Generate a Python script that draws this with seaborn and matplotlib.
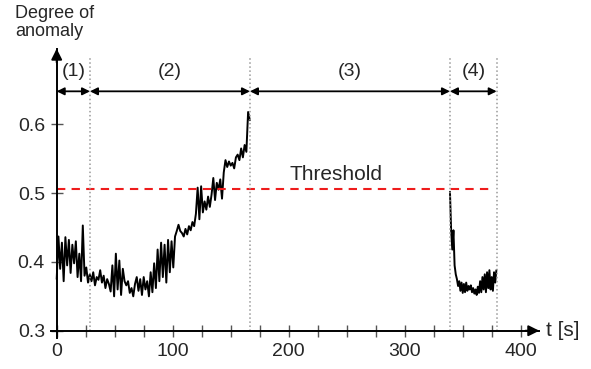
import numpy as np
import pandas as pd
import matplotlib
matplotlib.use('Agg')
import matplotlib.pyplot as plt
import seaborn as sns

# anomaly score, phase (1)+(2), sampled every 1.5 s from t=0
score_a = [
    0.375, 0.437, 0.390, 0.428, 0.372, 0.436, 0.395, 0.432, 0.384, 0.425,
    0.398, 0.430, 0.378, 0.412, 0.372, 0.453, 0.380, 0.392, 0.370, 0.382,
    0.372, 0.385, 0.366, 0.378, 0.374, 0.388, 0.370, 0.380, 0.362, 0.375,
    0.368, 0.357, 0.395, 0.350, 0.412, 0.360, 0.402, 0.352, 0.390, 0.372,
    0.366, 0.372, 0.355, 0.362, 0.350, 0.368, 0.378, 0.358, 0.375, 0.352,
    0.378, 0.360, 0.372, 0.350,
    0.385, 0.356, 0.398, 0.362, 0.418, 0.372, 0.428, 0.378, 0.425, 0.370,
    0.432, 0.385, 0.430, 0.392, 0.437, 0.445, 0.454, 0.445, 0.442, 0.437,
    0.448, 0.440, 0.452, 0.446, 0.458, 0.452,
    0.470, 0.508, 0.462, 0.510, 0.472, 0.488, 0.476, 0.495, 0.480, 0.498,
    0.522, 0.490, 0.515, 0.505, 0.520, 0.492, 0.530, 0.548, 0.538, 0.546,
    0.540, 0.544, 0.536, 0.552, 0.556, 0.548, 0.565, 0.552, 0.570, 0.560,
    0.618, 0.606,
]
# anomaly score, phase (4), sampled every 1 s from t=339
score_b = [
    0.502, 0.446, 0.418, 0.446, 0.395, 0.382, 0.375, 0.365, 0.372, 0.358,
    0.370, 0.355, 0.368, 0.356, 0.370, 0.358, 0.365, 0.360, 0.366, 0.356,
    0.362, 0.354, 0.360, 0.352, 0.364, 0.355, 0.372, 0.356, 0.378, 0.360,
    0.382, 0.356, 0.385, 0.362, 0.388, 0.360, 0.378, 0.358, 0.385, 0.370,
    0.388,
]
t_a = np.arange(len(score_a)) * 1.5
t_b = 339 + np.arange(len(score_b)) * 1.0

threshold = 0.506
phase_edges = [0, 28.7, 166.6, 339, 379.3]
phase_labels = ['(1)', '(2)', '(3)', '(4)']

sns.set_theme(style='white')
plt.rcParams['font.family'] = ['Liberation Sans', 'DejaVu Sans']

fig = plt.figure(figsize=(5.91, 3.69), dpi=100)
ax = fig.add_axes([0.0871, 0.0832, 0.8254, 0.7849])

df_a = pd.DataFrame({'t': t_a, 'score': score_a})
df_b = pd.DataFrame({'t': t_b, 'score': score_b})
sns.lineplot(data=df_a, x='t', y='score', color='black', lw=1.4, ax=ax)
sns.lineplot(data=df_b, x='t', y='score', color='black', lw=1.4, ax=ax)

# threshold
ax.plot([0, 375], [threshold, threshold], color='#ee1c1c', ls=(0, (4, 3)), lw=1.5)
ax.text(241, 0.527, 'Threshold', ha='center', va='center', fontsize=15)

# phase boundaries and arrows
for x in phase_edges[1:]:
    ax.plot([x, x], [0.3, 0.696], color='#999999', ls=':', lw=1.1)
for i, lab in enumerate(phase_labels):
    x0, x1 = phase_edges[i], phase_edges[i + 1]
    ax.annotate('', xy=(x1, 0.648), xytext=(x0, 0.648),
                arrowprops=dict(arrowstyle='<|-|>', color='black', lw=1.3,
                                mutation_scale=11, shrinkA=0, shrinkB=0))
    ax.text((x0 + x1) / 2, 0.677, lab, ha='center', va='center', fontsize=14)

ax.set_xlim(-4.5, 416)
ax.set_ylim(0.289, 0.71)
for s in ['top', 'right']:
    ax.spines[s].set_visible(False)
ax.spines['left'].set_position(('data', 0))
ax.spines['bottom'].set_position(('data', 0.3))
for s in ['left', 'bottom']:
    ax.spines[s].set_color('black')
    ax.spines[s].set_linewidth(1.4)

# arrow heads on the axes
ax.annotate('', xy=(416, 0.3), xytext=(404, 0.3), annotation_clip=False,
            arrowprops=dict(arrowstyle='-|>', color='black', lw=1.4,
                            mutation_scale=16, shrinkA=0, shrinkB=0))
ax.annotate('', xy=(0, 0.71), xytext=(0, 0.69), annotation_clip=False,
            arrowprops=dict(arrowstyle='-|>', color='black', lw=1.4,
                            mutation_scale=16, shrinkA=0, shrinkB=0))

ax.set_xticks([0, 100, 200, 300, 400])
ax.set_xticks(np.arange(0, 400, 25), minor=True)
ax.set_yticks([0.3, 0.4, 0.5, 0.6])
ax.set_yticklabels(['0.3', '0.4', '0.5', '0.6'])
ax.tick_params(axis='both', which='both', direction='inout', length=9,
               width=1, color='#555555', labelsize=14, pad=4,
               bottom=True, left=True)
ax.set_xlabel('')
ax.set_ylabel('')

ax.text(422, 0.3, 't [s]', ha='left', va='center', fontsize=15)
fig.text(15 / 591, 1 - 5 / 369, 'Degree of\nanomaly', ha='left', va='top',
         fontsize=13, linespacing=1.1)

fig.savefig('out.png', dpi=100)
